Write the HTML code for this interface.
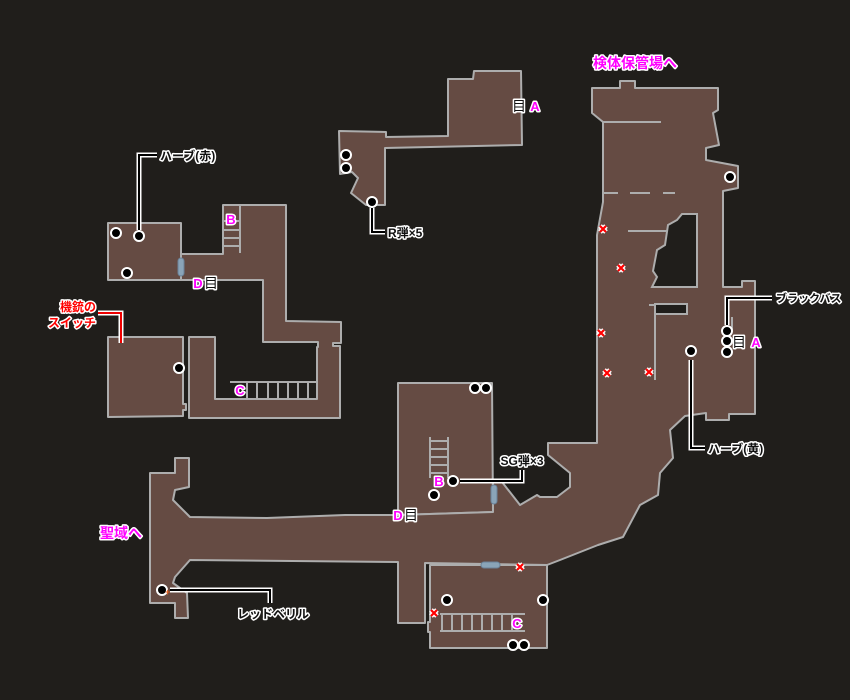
<!DOCTYPE html>
<html><head><meta charset="utf-8"><style>
html,body{margin:0;padding:0;background:#201e1b}
svg{display:block}
text{font-family:"Liberation Sans","Noto Sans CJK JP",sans-serif;font-weight:bold;paint-order:stroke;stroke:#fff;stroke-width:3px;stroke-linejoin:round}
.m{fill:#ff00ff;font-size:14px}
.k{fill:#111;font-size:12px}
.r{fill:#ff0000;font-size:12px}
.lt{fill:#ff00ff;font-size:13px}
.room{fill:#654b43;stroke:#adadad;stroke-width:2;stroke-linejoin:round}
.ln{stroke:#adadad;stroke-width:2;fill:none}
.dot{fill:#000;stroke:#fff;stroke-width:2}
.x{stroke:#f00;stroke-width:2.2;fill:none}
.xw{stroke:#fff;stroke-width:5;fill:none}
.door{fill:#8aa4b8;stroke:#6a8298;stroke-width:1}
</style></head><body>
<svg width="850" height="700" viewBox="0 0 850 700" xmlns="http://www.w3.org/2000/svg">
<rect width="850" height="700" fill="#201e1b"/>

<polygon class="room" points="339,131 386,132 386,137 448,136 448,79 473,79 474,71 521,71 522,145 476,146 385,148 385,205 366,205 351,193 358,178 352,172 340,174"/>

<polygon class="room" points="108,223 181,223 181,280 108,280"/>
<polygon class="room" points="181,254 223,254 223,205 286,205 286,321 341,322 341,343 333,343 333,346 340,346 340,418 189,418 189,337 215,337 215,399 317,399 317,347 318,347 318,342 263,342 263,280 181,280"/>
<polygon class="room" points="108,337 183,337 183,404 186,404 186,410 183,410 183,416 108,417"/>
<line class="ln" x1="240" y1="205" x2="240" y2="253"/>
<g class="ln"><line x1="223" y1="221" x2="240" y2="221"/><line x1="223" y1="230" x2="240" y2="230"/><line x1="223" y1="238" x2="240" y2="238"/><line x1="223" y1="246" x2="240" y2="246"/></g>
<line class="ln" x1="230" y1="382" x2="316" y2="382"/>
<g class="ln"><line x1="247" y1="382" x2="247" y2="399"/><line x1="257" y1="382" x2="257" y2="399"/><line x1="268" y1="382" x2="268" y2="399"/><line x1="278" y1="382" x2="278" y2="399"/><line x1="288" y1="382" x2="288" y2="399"/><line x1="298" y1="382" x2="298" y2="399"/><line x1="308" y1="382" x2="308" y2="399"/></g>
<rect class="door" x="178" y="258" width="6" height="18" rx="3"/>

<polygon class="room" points="398,383 492,383 493,512 398,515"/>

<polygon class="room" points="150,473 175,473 175,458 189,458 189,487 175,490 173,500 190,517 267,518 345,515 398,515 493,512 493,482 502,482 520,505 537,495 540,497 557,497 570,487 570,473 548,455 548,443 597,443 597,235 603,202 603,122 592,113 592,88 620,88 620,81 635,81 635,88 718,88 718,110 713,113 719,145 706,148 706,160 738,166 738,188 723,191 723,287 742,287 742,281 755,281 755,414 729,414 729,420 706,420 706,413 685,416 670,430 673,458 660,473 658,495 640,505 623,537 598,545 560,560 547,565 425,563 425,623 398,623 398,562 190,560 175,577 173,583 187,593 188,618 175,618 175,603 150,603"/>
<polygon points="682,214 697,214 697,287 652,287 657,277 653,271 657,250 665,245 668,225 677,220" fill="#201e1b" stroke="#adadad" stroke-width="2"/>
<line class="ln" x1="603" y1="122" x2="661" y2="122"/>
<g class="ln"><line x1="603" y1="193" x2="618" y2="193"/><line x1="630" y1="193" x2="650" y2="193"/><line x1="663" y1="193" x2="675" y2="193"/></g>
<line class="ln" x1="628" y1="231" x2="668" y2="231"/>
<rect x="655" y="304" width="32" height="10" fill="#201e1b" stroke="#adadad" stroke-width="2"/>
<line class="ln" x1="649" y1="305" x2="656" y2="305"/>
<line class="ln" x1="655" y1="307" x2="655" y2="380"/>
<line class="ln" x1="732" y1="317" x2="732" y2="330"/>

<polygon class="room" points="430,565 547,565 547,648 430,648 430,632 428,632 428,622 430,622"/>
<line class="ln" x1="440" y1="614" x2="525" y2="614"/>
<line class="ln" x1="440" y1="631" x2="525" y2="631"/>
<g class="ln"><line x1="442" y1="614" x2="442" y2="631"/><line x1="452" y1="614" x2="452" y2="631"/><line x1="462" y1="614" x2="462" y2="631"/><line x1="472" y1="614" x2="472" y2="631"/><line x1="482" y1="614" x2="482" y2="631"/><line x1="492" y1="614" x2="492" y2="631"/><line x1="502" y1="614" x2="502" y2="631"/><line x1="512" y1="614" x2="512" y2="631"/></g>
<rect class="door" x="481" y="562" width="19" height="6" rx="3"/>

<line class="ln" x1="430" y1="437" x2="430" y2="478"/>
<line class="ln" x1="448" y1="437" x2="448" y2="478"/>
<g class="ln"><line x1="430" y1="441" x2="448" y2="441"/><line x1="430" y1="449" x2="448" y2="449"/><line x1="430" y1="457" x2="448" y2="457"/><line x1="430" y1="465" x2="448" y2="465"/><line x1="430" y1="473" x2="448" y2="473"/></g>
<rect class="door" x="491" y="485" width="6" height="19" rx="3"/>

<g fill="none" stroke-linejoin="miter">
<polyline points="139,230 139,155 157,155" stroke="#fff" stroke-width="5"/><polyline points="139,230 139,155 157,155" stroke="#000" stroke-width="2"/>
<polyline points="98,313 121,313 121,343" stroke="#fff" stroke-width="5"/><polyline points="98,313 121,313 121,343" stroke="#e00" stroke-width="2"/>
<polyline points="372,208 372,232 385,232" stroke="#fff" stroke-width="5"/><polyline points="372,208 372,232 385,232" stroke="#000" stroke-width="2"/>
<polyline points="460,481 522,481 522,470" stroke="#fff" stroke-width="5"/><polyline points="460,481 522,481 522,470" stroke="#000" stroke-width="2"/>
<polyline points="170,590 270,590 270,603" stroke="#fff" stroke-width="5"/><polyline points="170,590 270,590 270,603" stroke="#000" stroke-width="2"/>
<polyline points="727,325 727,298 772,298" stroke="#fff" stroke-width="5"/><polyline points="727,325 727,298 772,298" stroke="#000" stroke-width="2"/>
<polyline points="691,360 691,448 705,448" stroke="#fff" stroke-width="5"/><polyline points="691,360 691,448 705,448" stroke="#000" stroke-width="2"/>
</g>

<g class="dot">
<circle cx="116" cy="233" r="5"/><circle cx="139" cy="236" r="5"/><circle cx="127" cy="273" r="5"/><circle cx="179" cy="368" r="5"/>
<circle cx="346" cy="155" r="5"/><circle cx="346" cy="168" r="5"/><circle cx="372" cy="202" r="5"/>
<circle cx="475" cy="388" r="5"/><circle cx="486" cy="388" r="5"/><circle cx="453" cy="481" r="5"/><circle cx="434" cy="495" r="5"/>
<circle cx="447" cy="600" r="5"/><circle cx="543" cy="600" r="5"/><circle cx="513" cy="645" r="5"/><circle cx="524" cy="645" r="5"/>
<circle cx="162" cy="590" r="5"/>
<circle cx="730" cy="177" r="5"/><circle cx="727" cy="331" r="5"/><circle cx="727" cy="341" r="5"/><circle cx="727" cy="352" r="5"/><circle cx="691" cy="351" r="5"/>
</g>
<text x="165" y="595" style="font-size:9px;fill:#e06020;stroke-width:0">+</text>

<g class="xw">
<path d="M600,226l6,6m0,-6l-6,6"/><path d="M618,265l6,6m0,-6l-6,6"/><path d="M598,330l6,6m0,-6l-6,6"/><path d="M604,370l6,6m0,-6l-6,6"/><path d="M646,369l6,6m0,-6l-6,6"/>
<path d="M517,564l6,6m0,-6l-6,6"/><path d="M431,610l6,6m0,-6l-6,6"/>
</g>
<g class="x">
<path d="M600,226l6,6m0,-6l-6,6"/><path d="M618,265l6,6m0,-6l-6,6"/><path d="M598,330l6,6m0,-6l-6,6"/><path d="M604,370l6,6m0,-6l-6,6"/><path d="M646,369l6,6m0,-6l-6,6"/>
<path d="M517,564l6,6m0,-6l-6,6"/><path d="M431,610l6,6m0,-6l-6,6"/>
</g>

<text class="lt" x="231" y="224" text-anchor="middle">B</text>
<text class="lt" x="198" y="288" text-anchor="middle">D</text>
<text class="k" x="211" y="288" text-anchor="middle" style="font-size:14px;font-weight:normal">目</text>
<text class="lt" x="240" y="395" text-anchor="middle">C</text>
<text class="k" x="519" y="111" text-anchor="middle" style="font-size:14px;font-weight:normal">目</text>
<text class="lt" x="535" y="111" text-anchor="middle">A</text>
<text class="lt" x="439" y="486" text-anchor="middle">B</text>
<text class="lt" x="398" y="520" text-anchor="middle">D</text>
<text class="k" x="411" y="520" text-anchor="middle" style="font-size:14px;font-weight:normal">目</text>
<text class="lt" x="517" y="628" text-anchor="middle">C</text>
<text class="k" x="739" y="347" text-anchor="middle" style="font-size:14px;font-weight:normal">目</text>
<text class="lt" x="756" y="347" text-anchor="middle">A</text>

<text class="m" x="635" y="68" text-anchor="middle">検体保管場へ</text>
<text class="m" x="121" y="538" text-anchor="middle">聖域へ</text>
<text class="k" x="160" y="160">ハーブ(赤)</text>
<text class="r" x="96" y="311" text-anchor="end">機銃の</text>
<text class="r" x="96" y="327" text-anchor="end">スイッチ</text>
<text class="k" x="388" y="237">R弾×5</text>
<text class="k" x="522" y="465" text-anchor="middle">SG弾×3</text>
<text class="k" x="273" y="618" text-anchor="middle">レッドベリル</text>
<text class="k" x="776" y="302" style="font-size:11px">ブラックバス</text>
<text class="k" x="708" y="453">ハーブ(黄)</text>
</svg>
</body></html>
